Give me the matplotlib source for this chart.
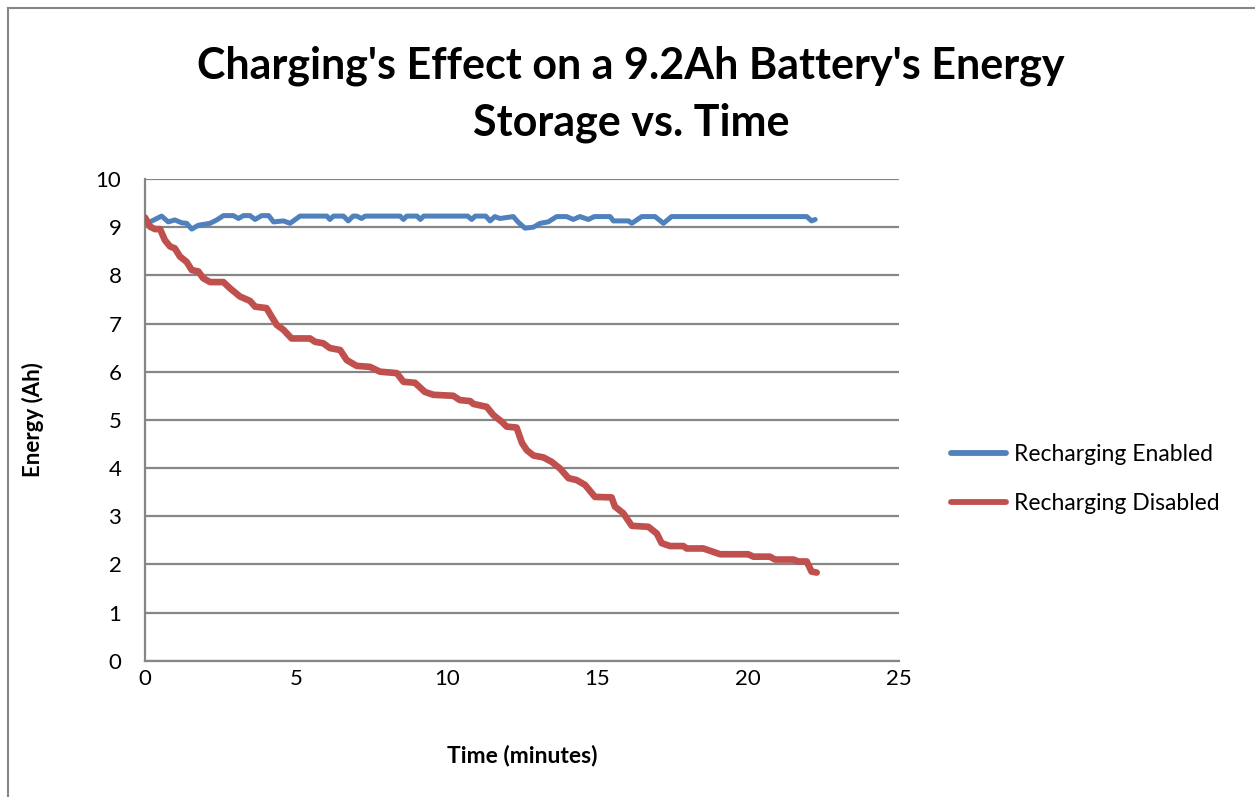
import matplotlib
matplotlib.use("Agg")
import matplotlib.pyplot as plt
from matplotlib.lines import Line2D

# ---- data ----
t_enabled = [0.0, 0.17, 0.55, 0.77, 0.99, 1.22, 1.38, 1.55, 1.77, 2.16, 2.38, 2.6, 2.93,
             3.1, 3.26, 3.48, 3.65, 3.87, 4.1, 4.26, 4.59, 4.81, 5.14, 6.03, 6.13, 6.25,
             6.58, 6.74, 6.9, 7.02, 7.18, 7.3, 8.46, 8.57, 8.68, 9.02, 9.13, 9.24, 10.7,
             10.83, 10.95, 11.3, 11.44, 11.6, 11.77, 12.21, 12.38, 12.6, 12.88, 13.1, 13.37,
             13.65, 13.98, 14.2, 14.42, 14.7, 14.9, 15.42, 15.53, 16.03, 16.14, 16.47,
             16.91, 17.19, 17.46, 21.94, 22.1, 22.22]
v_enabled = [9.11, 9.11, 9.23, 9.11, 9.15, 9.09, 9.08, 8.96, 9.04, 9.08, 9.15, 9.24, 9.24,
             9.18, 9.24, 9.24, 9.16, 9.24, 9.24, 9.11, 9.13, 9.08, 9.23, 9.23, 9.16, 9.23,
             9.23, 9.13, 9.23, 9.23, 9.18, 9.23, 9.23, 9.16, 9.23, 9.23, 9.16, 9.23, 9.23,
             9.16, 9.23, 9.23, 9.13, 9.22, 9.18, 9.22, 9.1, 8.98, 9.0, 9.08, 9.11,
             9.22, 9.22, 9.16, 9.22, 9.16, 9.22, 9.22, 9.13, 9.13, 9.08, 9.22,
             9.22, 9.08, 9.22, 9.22, 9.13, 9.16]

t_disabled = [0.0, 0.17, 0.33, 0.5, 0.66, 0.83, 0.99, 1.16, 1.38, 1.55, 1.77, 1.93, 2.16,
              2.6, 2.82, 3.15, 3.48, 3.65, 4.03, 4.2, 4.37, 4.59, 4.86, 5.47, 5.64, 5.91,
              6.13, 6.47, 6.69, 7.02, 7.46, 7.79, 8.35, 8.57, 8.95, 9.28, 9.56, 10.22,
              10.44, 10.78, 10.89, 11.33, 11.55, 11.83, 11.99, 12.32, 12.5, 12.66, 12.88,
              13.21, 13.48, 13.76, 14.04, 14.31, 14.59, 14.92, 15.47, 15.58, 15.86, 16.14,
              16.69, 16.97, 17.13, 17.41, 17.85, 17.96, 18.51, 18.84, 19.07, 20.0, 20.17,
              20.72, 20.89, 21.5, 21.66, 21.94, 22.1, 22.27]
v_disabled = [9.2, 9.01, 8.96, 8.96, 8.73, 8.6, 8.56, 8.39, 8.28, 8.11, 8.08, 7.94, 7.86,
              7.86, 7.73, 7.56, 7.47, 7.35, 7.32, 7.14, 6.97, 6.87, 6.69, 6.69, 6.62, 6.59,
              6.49, 6.45, 6.24, 6.12, 6.1, 6.0, 5.97, 5.79, 5.77, 5.58, 5.52, 5.5,
              5.41, 5.39, 5.33, 5.27, 5.1, 4.96, 4.86, 4.84, 4.52, 4.37, 4.26,
              4.22, 4.13, 3.99, 3.79, 3.75, 3.65, 3.40, 3.39, 3.2, 3.06, 2.8,
              2.78, 2.64, 2.44, 2.38, 2.38, 2.33, 2.33, 2.26, 2.21, 2.21, 2.16,
              2.16, 2.1, 2.1, 2.06, 2.06, 1.85, 1.83]

series_labels = ["Recharging Enabled", "Recharging Disabled"]
x_ticks = [0, 5, 10, 15, 20, 25]
y_ticks = [0, 1, 2, 3, 4, 5, 6, 7, 8, 9, 10]
title = "Charging's Effect on a 9.2Ah Battery's Energy\nStorage vs. Time"

FONT = "Lato"
BLUE = "#4F81BD"
RED = "#C0504D"
GRID = "#868686"

fig = plt.figure(figsize=(12.55, 7.97), dpi=100)
fig.patch.set_facecolor("white")
W, H = 1255, 797

def fx(px):
    return px / W

def fy(py):
    return 1 - py / H

ax = fig.add_axes([fx(145), fy(660.7), fx(899) - fx(145), fy(179) - fy(660.7)])

ax.plot(t_enabled, v_enabled, color=BLUE, lw=3.6, solid_capstyle="round",
        solid_joinstyle="round", label=series_labels[0], zorder=3)
ax.plot(t_disabled, v_disabled, color=RED, lw=4.8, solid_capstyle="round",
        solid_joinstyle="round", label=series_labels[1], zorder=3)

ax.set_xlim(0, 25)
ax.set_ylim(0, 10)
ax.set_xticks(x_ticks)
ax.set_yticks(y_ticks)
ax.set_xticklabels([str(v) for v in x_ticks], fontfamily=FONT, fontsize=16)
ax.set_yticklabels([str(v) for v in y_ticks], fontfamily=FONT, fontsize=16)
ax.tick_params(axis="both", length=0, colors="black")
ax.tick_params(axis="x", pad=6)
ax.tick_params(axis="y", pad=17)

ax.grid(axis="y", color=GRID, lw=1.6, zorder=0)
ax.set_axisbelow(True)
for s in ["top", "right"]:
    ax.spines[s].set_visible(False)
for s in ["left", "bottom"]:
    ax.spines[s].set_color(GRID)
    ax.spines[s].set_linewidth(1.6)

fig.text(fx(522), fy(756), "Time (minutes)", ha="center", va="center",
         fontfamily=FONT, fontsize=16.5, fontweight="bold")
fig.text(fx(33), fy(420), "Energy (Ah)", ha="center", va="center", rotation=90,
         fontfamily=FONT, fontsize=16, fontweight="bold")

fig.text(fx(631), fy(94), title, ha="center", va="center", fontfamily=FONT,
         fontsize=31, fontweight="bold", linespacing=1.5)

leg = ax.legend(loc="center left", bbox_to_anchor=(fx(930), fy(479)),
                bbox_transform=fig.transFigure, frameon=False,
                prop={"family": FONT, "size": 16.5}, handlelength=2.4,
                handletextpad=0.35, labelspacing=1.2)
for h in leg.legend_handles:
    h.set_linewidth(4.2)

# chart border (top and left visible in the crop)
fig.add_artist(Line2D([fx(8), fx(8)], [fy(8), 0], transform=fig.transFigure,
                      color=GRID, lw=1.5))
fig.add_artist(Line2D([fx(8), 1], [fy(8), fy(8)], transform=fig.transFigure,
                      color=GRID, lw=1.5))

fig.savefig("out.png", dpi=100, facecolor="white")
